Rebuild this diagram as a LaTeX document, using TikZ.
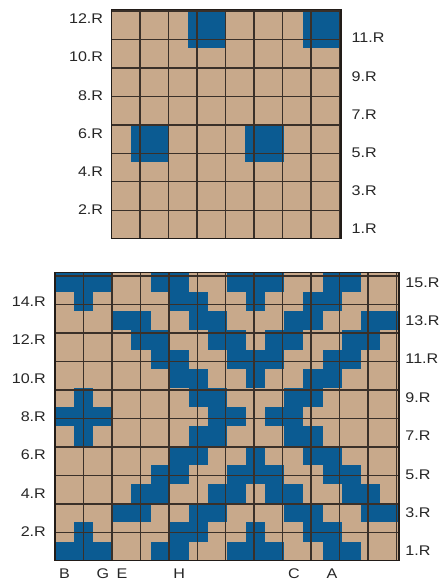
\documentclass[tikz,border=0pt]{standalone}
\usepackage{fontspec}
\setmainfont{Liberation Sans}
\newfontfamily\lblfont[FakeStretch=1.15]{Liberation Sans}
\definecolor{knittan}{HTML}{C8A98B}
\definecolor{knitblue}{HTML}{0B5B92}
\definecolor{gridline}{HTML}{3A3029}
\definecolor{gridborder}{HTML}{221C18}
\definecolor{labeltext}{HTML}{262626}
\begin{document}
\begin{tikzpicture}[x=1pt,y=-1pt,
  lbl/.style={font=\lblfont\fontsize{14}{16}\selectfont, text=labeltext, inner sep=0pt},
  gridlines/.style={draw=gridline, line width=1.4pt},
  gridframe/.style={draw=gridborder, line width=1.5pt}]
\useasboundingbox (0,0) rectangle (446,581);

% ---------- top chart (12 x 12) ----------
\begin{scope}[shift={(111.7pt,-238.7pt)}, x=19.11pt, y=19.11pt]
  \fill[knittan] (0,0) rectangle (12,12);
  \foreach \c/\r in {5/12,6/12,11/12,12/12,5/11,6/11,11/11,12/11,
                     2/6,3/6,8/6,9/6,2/5,3/5,8/5,9/5}
    \fill[knitblue] (\c-1,\r-1) rectangle (\c,\r);
  \draw[gridlines] (0,0) grid (12,12);
  \draw[gridframe] (0,0) rectangle (12,12);
  \foreach \r in {2,4,...,12}
    \node[lbl, anchor=east] (tl\r) at (-0.44,\r-0.5) {\r.R};
  \foreach \r in {1,3,...,11}
    \node[lbl, anchor=west] (tr\r) at (12.55,\r-0.5) {\r.R};
\end{scope}

% ---------- bottom chart (18 x 15) ----------
\begin{scope}[shift={(55pt,-560.7pt)}, x=19.11pt, y=19.2pt]
  \fill[knittan] (0,0) rectangle (18,15);
  \foreach \r/\cols in {
      15/{1,2,3,6,7,10,11,12,15,16},
      14/{2,7,8,11,14,15},
      13/{4,5,8,9,13,14,17,18},
      12/{5,6,9,10,12,13,16,17},
      11/{6,7,10,11,12,15,16},
      10/{7,8,11,14,15},
      9/{2,8,9,13,14},
      8/{1,2,3,9,10,12,13},
      7/{2,8,9,13,14},
      6/{7,8,11,14,15},
      5/{6,7,10,11,12,15,16},
      4/{5,6,9,10,12,13,16,17},
      3/{4,5,8,9,13,14,17,18},
      2/{2,7,8,11,14,15},
      1/{1,2,3,6,7,10,11,12,15,16}}
    \foreach \c in \cols
      \fill[knitblue] (\c-1,\r-1) rectangle (\c,\r);
  \draw[gridlines] (0,0) grid (18,15);
  \draw[gridframe] (0,0) rectangle (18,15);
  \foreach \r in {2,4,...,14}
    \node[lbl, anchor=east] (bl\r) at (-0.47,\r-0.5) {\r.R};
  \foreach \r in {1,3,...,15}
    \node[lbl, anchor=west] (br\r) at (18.33,\r-0.5) {\r.R};
  \foreach \c/\t in {1/B,3/G,4/E,7/H,13/C,15/A}
    \node[lbl] (col\t) at (\c-0.5,-0.69) {\t};
\end{scope}
\end{tikzpicture}
\end{document}
